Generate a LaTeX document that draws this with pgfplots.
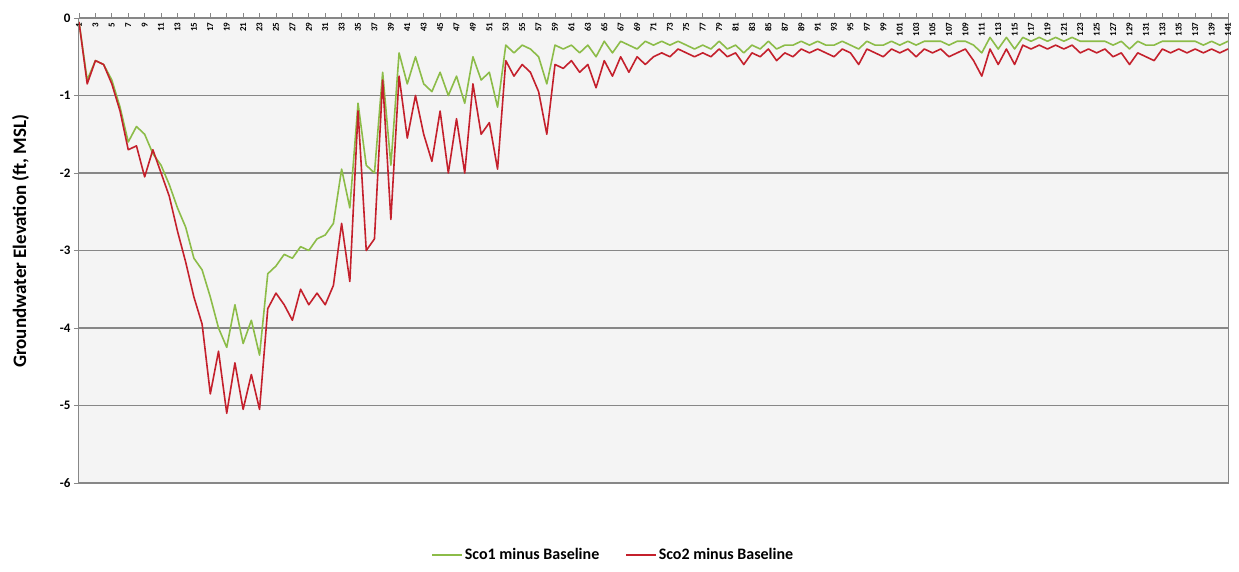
\documentclass[border=0pt]{standalone}
\usepackage{fontspec}
\setmainfont{Carlito}
\usepackage{pgfplots}
\usepackage{pgfplotstable}
\pgfplotsset{compat=1.18}
\definecolor{scoone}{RGB}{140,188,72}
\definecolor{scotwo}{RGB}{196,32,44}
\definecolor{gridc}{RGB}{135,135,135}
\pgfplotstableread{
x sco1 sco2
1 -0.05 -0.05
2 -0.8 -0.85
3 -0.55 -0.55
4 -0.6 -0.6
5 -0.8 -0.85
6 -1.15 -1.2
7 -1.6 -1.7
8 -1.4 -1.65
9 -1.5 -2.05
10 -1.75 -1.7
11 -1.9 -2.0
12 -2.15 -2.3
13 -2.45 -2.75
14 -2.7 -3.15
15 -3.1 -3.6
16 -3.25 -3.95
17 -3.6 -4.85
18 -4.0 -4.3
19 -4.25 -5.1
20 -3.7 -4.45
21 -4.2 -5.05
22 -3.9 -4.6
23 -4.35 -5.05
24 -3.3 -3.75
25 -3.2 -3.55
26 -3.05 -3.7
27 -3.1 -3.9
28 -2.95 -3.5
29 -3.0 -3.7
30 -2.85 -3.55
31 -2.8 -3.7
32 -2.65 -3.45
33 -1.95 -2.65
34 -2.45 -3.4
35 -1.1 -1.2
36 -1.9 -3.0
37 -2.0 -2.85
38 -0.7 -0.8
39 -1.9 -2.6
40 -0.45 -0.75
41 -0.85 -1.55
42 -0.5 -1.0
43 -0.85 -1.5
44 -0.95 -1.85
45 -0.7 -1.2
46 -1.0 -2.0
47 -0.75 -1.3
48 -1.1 -2.0
49 -0.5 -0.85
50 -0.8 -1.5
51 -0.7 -1.35
52 -1.15 -1.95
53 -0.35 -0.55
54 -0.45 -0.75
55 -0.35 -0.6
56 -0.4 -0.7
57 -0.5 -0.95
58 -0.85 -1.5
59 -0.35 -0.6
60 -0.4 -0.65
61 -0.35 -0.55
62 -0.45 -0.7
63 -0.35 -0.6
64 -0.5 -0.9
65 -0.3 -0.55
66 -0.45 -0.75
67 -0.3 -0.5
68 -0.35 -0.7
69 -0.4 -0.5
70 -0.3 -0.6
71 -0.35 -0.5
72 -0.3 -0.45
73 -0.35 -0.5
74 -0.3 -0.4
75 -0.35 -0.45
76 -0.4 -0.5
77 -0.35 -0.45
78 -0.4 -0.5
79 -0.3 -0.4
80 -0.4 -0.5
81 -0.35 -0.45
82 -0.45 -0.6
83 -0.35 -0.45
84 -0.4 -0.5
85 -0.3 -0.4
86 -0.4 -0.55
87 -0.35 -0.45
88 -0.35 -0.5
89 -0.3 -0.4
90 -0.35 -0.45
91 -0.3 -0.4
92 -0.35 -0.45
93 -0.35 -0.5
94 -0.3 -0.4
95 -0.35 -0.45
96 -0.4 -0.6
97 -0.3 -0.4
98 -0.35 -0.45
99 -0.35 -0.5
100 -0.3 -0.4
101 -0.35 -0.45
102 -0.3 -0.4
103 -0.35 -0.5
104 -0.3 -0.4
105 -0.3 -0.45
106 -0.3 -0.4
107 -0.35 -0.5
108 -0.3 -0.45
109 -0.3 -0.4
110 -0.35 -0.55
111 -0.45 -0.75
112 -0.25 -0.4
113 -0.4 -0.6
114 -0.25 -0.4
115 -0.4 -0.6
116 -0.25 -0.35
117 -0.3 -0.4
118 -0.25 -0.35
119 -0.3 -0.4
120 -0.25 -0.35
121 -0.3 -0.4
122 -0.25 -0.35
123 -0.3 -0.45
124 -0.3 -0.4
125 -0.3 -0.45
126 -0.3 -0.4
127 -0.35 -0.5
128 -0.3 -0.45
129 -0.4 -0.6
130 -0.3 -0.45
131 -0.35 -0.5
132 -0.35 -0.55
133 -0.3 -0.4
134 -0.3 -0.45
135 -0.3 -0.4
136 -0.3 -0.45
137 -0.3 -0.4
138 -0.35 -0.45
139 -0.3 -0.4
140 -0.35 -0.45
141 -0.3 -0.4
}\datatable
\begin{document}
\begin{tikzpicture}
\useasboundingbox (-79pt,-88pt) rectangle (1160pt,483pt);
\begin{axis}[
  at={(0pt,0pt)}, anchor=south west,
  scale only axis, width=1149pt, height=465pt,
  xmin=1, xmax=141, ymin=-6, ymax=0,
  ytick={-6,-5,-4,-3,-2,-1,0},
  xtick={1,3,...,141},
  xticklabel pos=upper,
  xtick pos=upper,
  ytick pos=left,
  tick align=outside,
  major tick length=5pt,
  xticklabel style={rotate=90, anchor=east, font=\fontsize{9}{9}\selectfont\bfseries},
  xticklabel shift=-6pt,
  yticklabel style={font=\fontsize{13}{13}\selectfont\bfseries},
  /pgf/number format/assume math mode=true,
  ymajorgrids,
  grid style={gridc, line width=1.2pt},
  axis line style={gridc, line width=1pt},
  tick style={gridc, line width=0.8pt},
  axis background/.style={fill=gray!9},
  ylabel={\bfseries Groundwater Elevation (ft, MSL)},
  ylabel style={at={(axis description cs:-0.051,0.52)}, anchor=center, font=\fontsize{19}{19}\selectfont},
  legend style={at={(axis description cs:0.465,-0.155)}, anchor=center, draw=none, fill=none,
    legend columns=2, font=\fontsize{16}{16}\selectfont\bfseries,
    /tikz/every even column/.append style={column sep=24pt}},
  legend image code/.code={\draw[#1, line width=1.5pt] (0pt,0pt) -- (30pt,0pt);},
]
\addplot[scoone, line width=1.6pt, line join=round] table[x=x, y=sco1]{\datatable};
\addlegendentry{Sco1 minus Baseline}
\addplot[scotwo, line width=1.6pt, line join=round] table[x=x, y=sco2]{\datatable};
\addlegendentry{Sco2 minus Baseline}
\end{axis}
\end{tikzpicture}
\end{document}
